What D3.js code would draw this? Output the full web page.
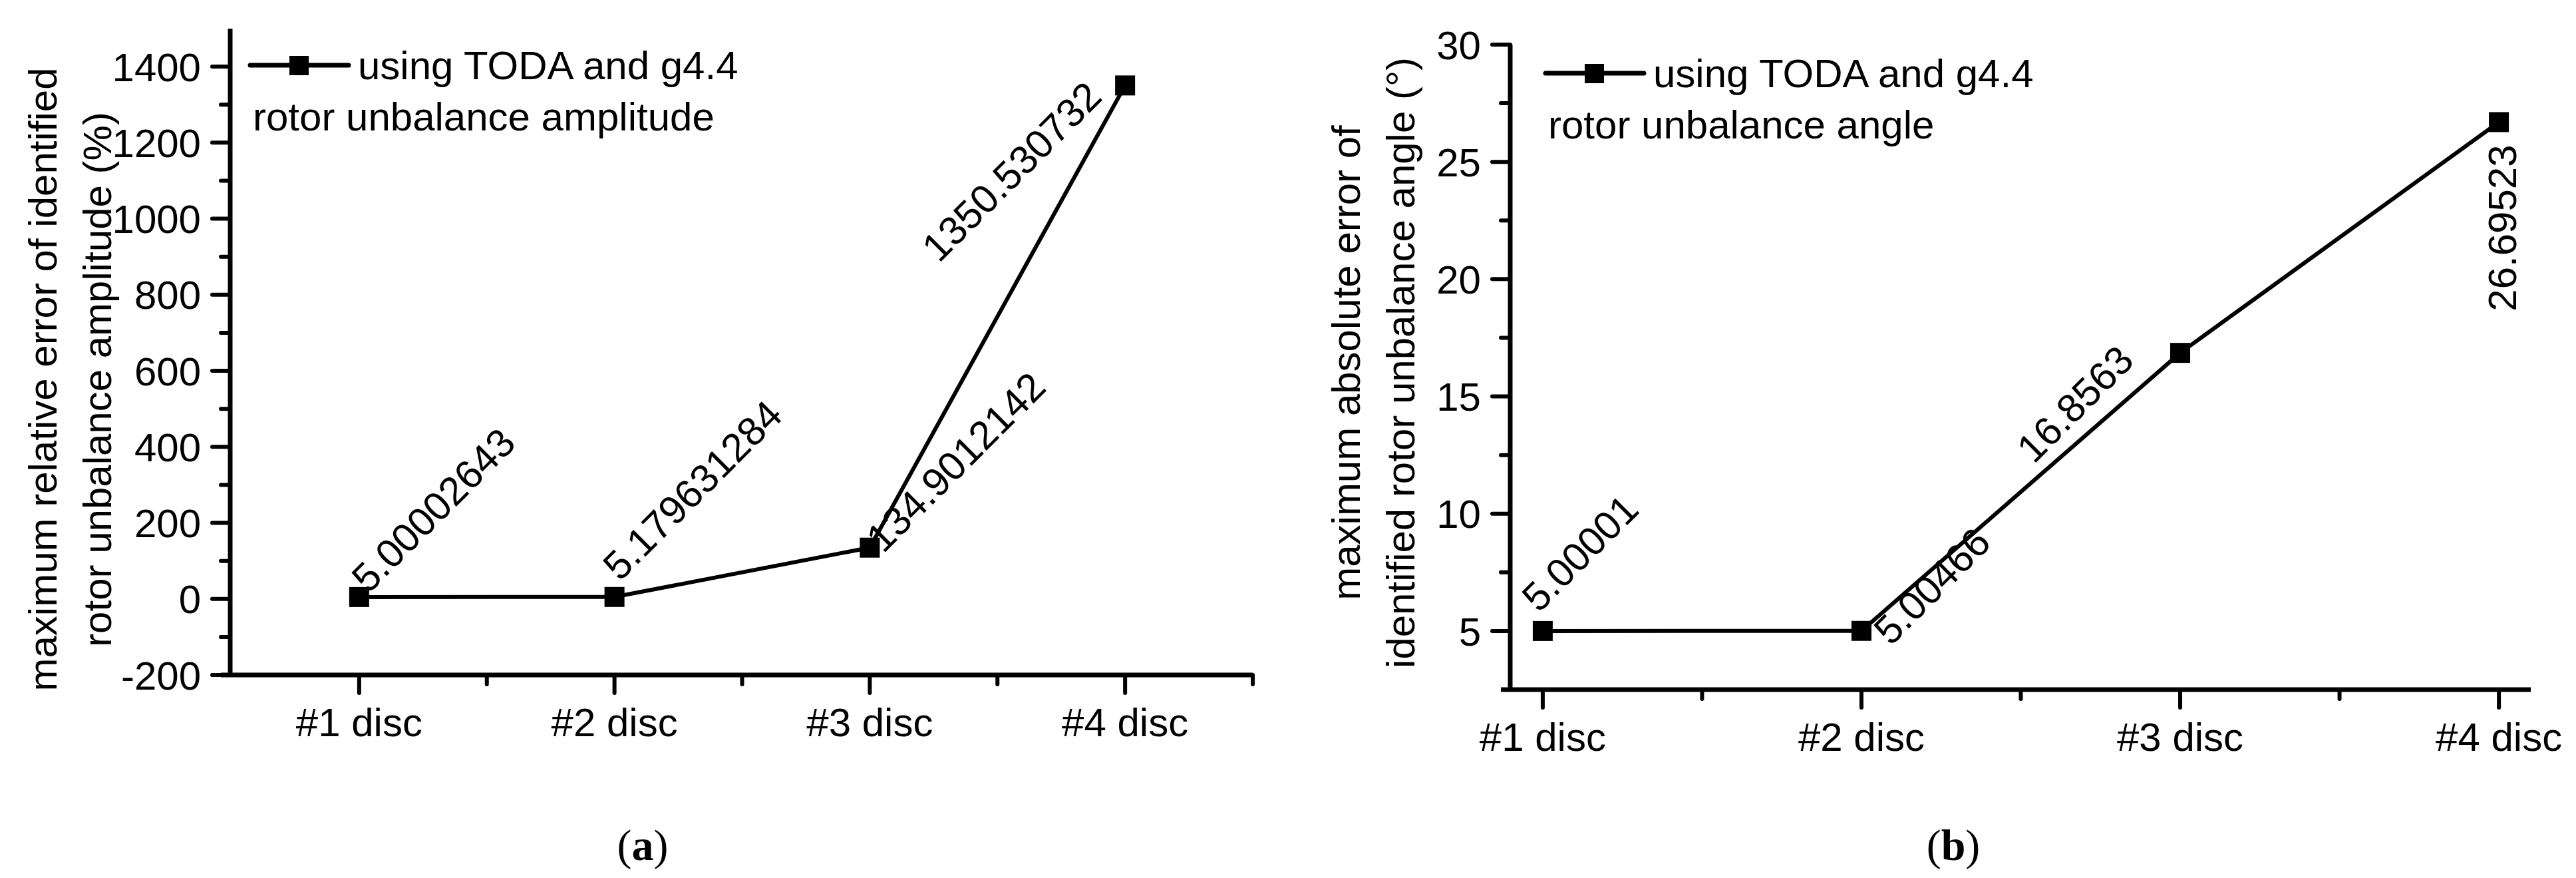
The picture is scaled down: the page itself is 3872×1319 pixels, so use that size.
<!DOCTYPE html>
<html>
<head>
<meta charset="utf-8">
<script src="https://cdn.jsdelivr.net/npm/d3@7"></script>
<style>
  html, body { margin: 0; padding: 0; background: #fff; }
  svg text { font-family: "Liberation Sans", Arial, sans-serif; fill: #000; }
</style>
</head>
<body>
<svg id="chart" width="3872" height="1319"></svg>
<script>
// data
const categories = ['#1 disc', '#2 disc', '#3 disc', '#4 disc']
const amplitudeErr = [5.00002643, 5.179631284, 134.9012142, 1350.530732]
const amplitudeLabels = ['5.00002643', '5.179631284', '134.9012142', '1350.530732']
const angleErr = [5.00001, 5.00466, 16.8563, 26.69523]
const angleLabels = ['5.00001', '5.00466', '16.8563', '26.69523']
const amplitudeTicks = [-200, 0, 200, 400, 600, 800, 1000, 1200, 1400]
const angleTicks = [5, 10, 15, 20, 25, 30]

const svg = d3.select('#chart')
const FS = 60

// one panel: y axis, x axis with minor ticks, line + square markers, labels, legend
function panel(cfg) {
  const x = d3.scaleLinear().domain(cfg.xDomain).range(cfg.xRange)
  const y = d3.scaleLinear().domain(cfg.yDomain).range(cfg.yRange)
  const g = svg.append('g')
  const x0 = cfg.xRange[0], yBot = cfg.yRange[0]
  const yAxisX = cfg.yAxisX

  // minor y ticks
  g.append('g').selectAll('line').data(cfg.yMinor).join('line')
    .attr('x1', yAxisX - 14).attr('x2', yAxisX)
    .attr('y1', d => y(d)).attr('y2', d => y(d))
    .attr('stroke', '#000').attr('stroke-width', 6).attr('stroke-linecap', 'round')
  // major y ticks + labels
  g.append('g').selectAll('line').data(cfg.yTicks).join('line')
    .attr('x1', yAxisX - 27).attr('x2', yAxisX)
    .attr('y1', d => y(d)).attr('y2', d => y(d))
    .attr('stroke', '#000').attr('stroke-width', 6).attr('stroke-linecap', 'round')
  g.append('g').selectAll('text').data(cfg.yTicks).join('text')
    .attr('x', yAxisX - 44).attr('y', d => y(d)).attr('dy', '0.36em')
    .attr('text-anchor', 'end').style('font-size', FS + 'px').text(d => d)
  g.append('line').attr('x1', yAxisX).attr('x2', yAxisX)
    .attr('y1', cfg.yRange[1]).attr('y2', yBot)
    .attr('stroke', '#000').attr('stroke-width', 7)

  // x axis
  g.append('line').attr('x1', yAxisX - 14).attr('x2', cfg.xRange[1])
    .attr('y1', yBot).attr('y2', yBot).attr('stroke', '#000').attr('stroke-width', 7)
  g.append('g').selectAll('line').data(categories).join('line')
    .attr('x1', (d, i) => x(i + 1)).attr('x2', (d, i) => x(i + 1))
    .attr('y1', yBot).attr('y2', yBot + 27)
    .attr('stroke', '#000').attr('stroke-width', 6).attr('stroke-linecap', 'round')
  g.append('g').selectAll('line').data(cfg.xMinor).join('line')
    .attr('x1', d => x(d)).attr('x2', d => x(d))
    .attr('y1', yBot).attr('y2', yBot + 14)
    .attr('stroke', '#000').attr('stroke-width', 6).attr('stroke-linecap', 'round')
  g.append('g').selectAll('text').data(categories).join('text')
    .attr('x', (d, i) => x(i + 1)).attr('y', yBot + 92)
    .attr('text-anchor', 'middle').style('font-size', FS + 'px').text(d => d)

  // y title (two lines)
  cfg.title.forEach((t, i) => {
    g.append('text')
      .attr('transform', `translate(${cfg.titleX[i]},${cfg.titleY}) rotate(-90)`)
      .attr('text-anchor', 'middle').style('font-size', FS + 'px').text(t)
  })

  // series
  const line = d3.line().x((d, i) => x(i + 1)).y(d => y(d))
  g.append('path').datum(cfg.values).attr('d', line)
    .attr('fill', 'none').attr('stroke', '#000').attr('stroke-width', 6)
  g.append('g').selectAll('rect').data(cfg.values).join('rect')
    .attr('x', (d, i) => x(i + 1) - 15).attr('y', d => y(d) - 15)
    .attr('width', 30).attr('height', 30).attr('fill', '#000')

  // value labels
  g.append('g').selectAll('text').data(cfg.values).join('text')
    .attr('transform', (d, i) => {
      const o = cfg.labelPos[i]
      return `translate(${x(i + 1) + o[0]},${y(d) + o[1]}) rotate(${o[2]})`
    })
    .attr('text-anchor', (d, i) => cfg.labelPos[i][3])
    .style('font-size', FS + 'px').text((d, i) => cfg.labels[i])

  // legend
  const lg = g.append('g')
  lg.append('line').attr('x1', cfg.legend[0]).attr('x2', cfg.legend[0] + 148)
    .attr('y1', cfg.legend[1]).attr('y2', cfg.legend[1])
    .attr('stroke', '#000').attr('stroke-width', 7).attr('stroke-linecap', 'round')
  lg.append('rect').attr('x', cfg.legend[0] + 59).attr('y', cfg.legend[1] - 14)
    .attr('width', 29).attr('height', 29).attr('fill', '#000')
  lg.append('text').attr('x', cfg.legend[0] + 162).attr('y', cfg.legend[1] + 21)
    .style('font-size', FS + 'px').text('using TODA and g4.4')
  lg.append('text').attr('x', cfg.legend[0] + 4).attr('y', cfg.legend[1] + 98)
    .style('font-size', FS + 'px').text(cfg.legendSub)

  g.append('text').attr('x', cfg.capX).attr('y', 1292).attr('text-anchor', 'middle')
    .style('font-family', '"Liberation Serif", "Times New Roman", serif')
    .style('font-size', '66px')
    .html(`(<tspan font-weight="bold">${cfg.cap}</tspan>)`)
}

panel({
  xDomain: [0.5, 4.5], xRange: [348, 1883], yAxisX: 346,
  yDomain: [-200, 1500], yRange: [1014, 43],
  yTicks: amplitudeTicks, yMinor: d3.range(-100, 1500, 200),
  xMinor: [1.5, 2.5, 3.5, 4.5],
  values: amplitudeErr, labels: amplitudeLabels,
  labelPos: [[14, -4, -45, 'start'], [8, -22, -45, 'start'], [20, 10, -45, 'start'], [-32, 20, -45, 'end']],
  title: ['maximum relative error of identified', 'rotor unbalance amplitude (%)'],
  titleX: [85, 167], titleY: 570,
  legend: [376, 98], legendSub: 'rotor unbalance amplitude', cap: 'a', capX: 966
})

panel({
  xDomain: [0.9, 4.1], xRange: [2271, 3804], yAxisX: 2270,
  yDomain: [2.5, 30], yRange: [1036, 67],
  yTicks: angleTicks, yMinor: d3.range(7.5, 30, 5),
  xMinor: [1.5, 2.5, 3.5],
  values: angleErr, labels: angleLabels,
  labelPos: [[-6, -26, -45, 'start'], [44, 24, -45, 'start'], [-220, 168, -45, 'start'], [26, 34, -90, 'end']],
  title: ['maximum absolute error of', 'identified rotor unbalance angle (°)'],
  titleX: [2044, 2126], titleY: 545,
  legend: [2323, 110], legendSub: 'rotor unbalance angle', cap: 'b', capX: 2936
})
</script>
</body>
</html>
